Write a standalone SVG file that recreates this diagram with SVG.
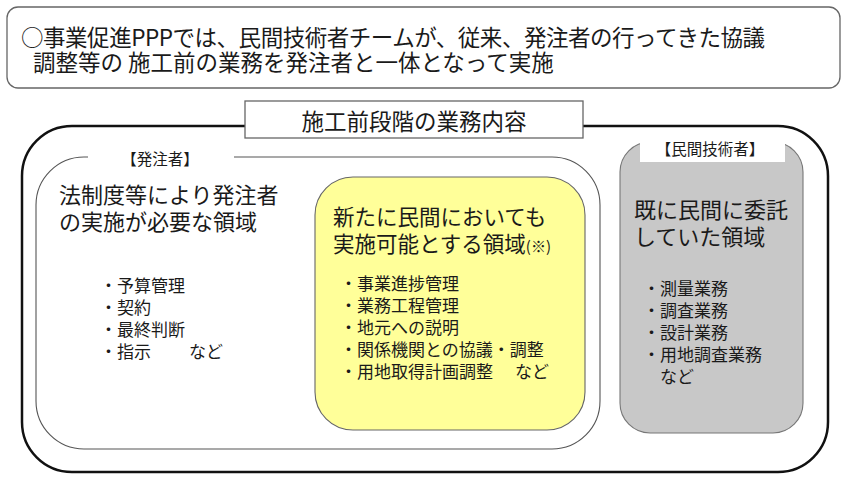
<svg xmlns="http://www.w3.org/2000/svg" width="850" height="481" viewBox="0 0 850 481">
<style>
text{font-family:"Noto Sans CJK JP","Noto Sans",sans-serif;fill:#1a1a1a}
.h{font-size:22.5px}
.m{font-size:22px}
.b{font-size:17px}
.lbl{font-size:15.5px}
</style>
<rect x="0" y="0" width="850" height="481" fill="#ffffff"/>
<g id="header">
<rect x="7" y="7" width="833" height="81" rx="11" fill="#ffffff" stroke="#666" stroke-width="1.3"/>
<text class="h" x="21" y="46" textLength="744">○事業促進PPPでは、民間技術者チームが、従来、発注者の行ってきた協議</text>
<text class="h" x="33" y="71">調整等の 施工前の業務を発注者と一体となって実施</text>
</g>
<g id="frame">
<rect x="22" y="126" width="806" height="346" rx="50" fill="none" stroke="#111" stroke-width="2.5"/>
</g>
<g id="title">
<rect x="245" y="101" width="338" height="37" fill="#ffffff" stroke="#666" stroke-width="1.3"/>
<text class="h" x="414" y="130" text-anchor="middle">施工前段階の業務内容</text>
</g>
<g id="hacchusha">
<rect x="36" y="157" width="564" height="292" rx="48" fill="none" stroke="#555" stroke-width="1.1"/>
<rect x="88" y="150" width="146" height="14" fill="#ffffff"/>
<text class="lbl" x="160" y="165" text-anchor="middle">【発注者】</text>
<text class="m" x="59" y="203">法制度等により発注者</text>
<text class="m" x="59" y="230">の実施が必要な領域</text>
<text class="b" x="100" y="292">・予算管理</text>
<text class="b" x="100" y="314">・契約</text>
<text class="b" x="100" y="336">・最終判断</text>
<text class="b" x="100" y="358">・指示<tspan x="189">など</tspan></text>
</g>
<g id="shinki">
<rect x="315" y="177" width="270" height="253" rx="38" fill="#ffff99" stroke="#666" stroke-width="1.1"/>
<text class="m" x="333" y="225" style="font-size:21.5px">新たに民間においても</text>
<text class="m" x="333" y="252" style="font-size:21.5px">実施可能とする領域<tspan style="font-size:15px">(※)</tspan></text>
<text class="b" x="340" y="290">・事業進捗管理</text>
<text class="b" x="340" y="312">・業務工程管理</text>
<text class="b" x="340" y="334">・地元への説明</text>
<text class="b" x="340" y="356">・関係機関との協議・調整</text>
<text class="b" x="340" y="378">・用地取得計画調整<tspan x="515">など</tspan></text>
</g>
<g id="minkan">
<rect x="620" y="142" width="183" height="291" rx="30" fill="#c8c8c8" stroke="#777" stroke-width="1.1"/>
<rect x="640" y="139" width="145" height="23" fill="#ffffff"/>
<text class="lbl" x="710" y="155" text-anchor="middle">【民間技術者】</text>
<text class="m" x="634" y="218">既に民間に委託</text>
<text class="m" x="634" y="245">していた領域</text>
<text class="b" x="643" y="295">・測量業務</text>
<text class="b" x="643" y="317">・調査業務</text>
<text class="b" x="643" y="339">・設計業務</text>
<text class="b" x="643" y="361">・用地調査業務</text>
<text class="b" x="660" y="383">など</text>
</g>
</svg>
